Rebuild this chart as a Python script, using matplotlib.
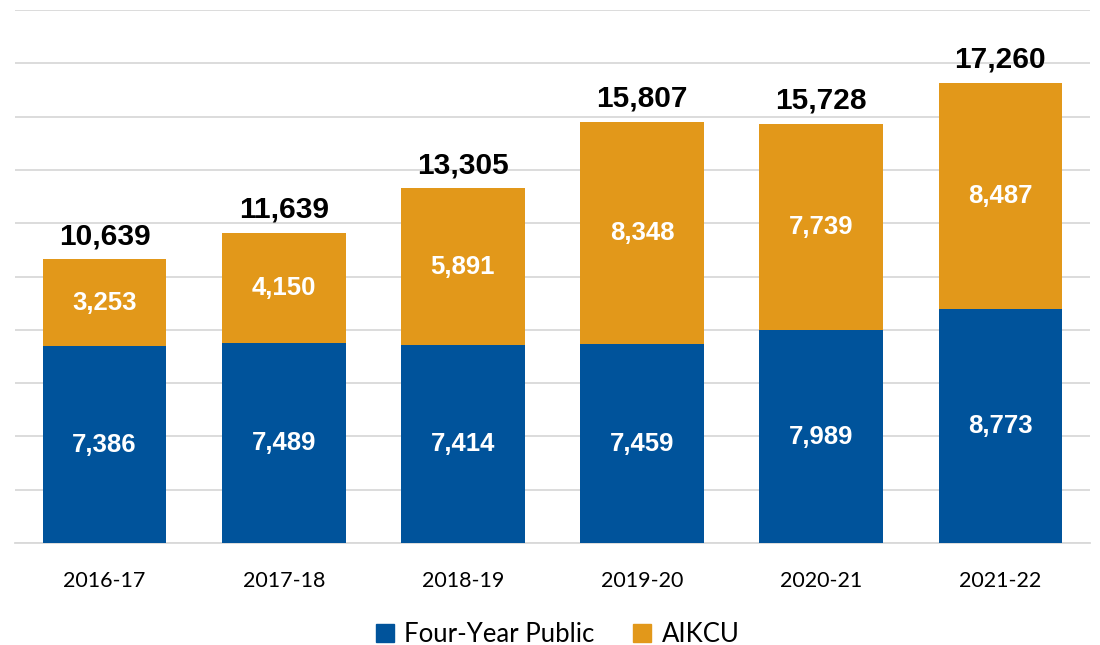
import numpy as np
import matplotlib
matplotlib.use('Agg')
import matplotlib.pyplot as plt
from matplotlib.patches import Patch

years = ['2016-17', '2017-18', '2018-19', '2019-20', '2020-21', '2021-22']
public = [7386, 7489, 7414, 7459, 7989, 8773]
aikcu = [3253, 4150, 5891, 8348, 7739, 8487]
totals = [10639, 11639, 13305, 15807, 15728, 17260]

blue = '#00539B'
orange = '#E2981A'
grid_c = '#D9D9D9'

fig = plt.figure(figsize=(11, 6.45), dpi=100)
ax = fig.add_axes([15 / 1100, 102 / 645, 1075 / 1100, 533 / 645])

x = np.arange(len(years))
w = 0.69
b1 = ax.bar(x, public, w, color=blue, zorder=3)
b2 = ax.bar(x, aikcu, w, bottom=public, color=orange, zorder=3)

for i in range(len(years)):
    ax.text(x[i], public[i] / 2, f'{public[i]:,}', ha='center', va='center',
            color='white', fontsize=18.5, family='Liberation Sans', weight='bold', zorder=4)
    ax.text(x[i], public[i] + aikcu[i] / 2, f'{aikcu[i]:,}', ha='center', va='center',
            color='white', fontsize=18.5, family='Liberation Sans', weight='bold', zorder=4)
    ax.annotate(f'{totals[i]:,}', (x[i], public[i] + aikcu[i]), xytext=(0, 11),
                textcoords='offset points', ha='center', va='baseline',
                color='black', fontsize=21.5, family='Liberation Sans', weight='bold', zorder=4)

ax.set_ylim(0, 20000)
ax.set_xlim(-0.5, len(years) - 0.5)
ax.set_yticks(np.arange(0, 20001, 2000))
ax.yaxis.grid(True, color=grid_c, linewidth=1.3, zorder=0)
ax.tick_params(axis='y', left=False, labelleft=False)
ax.tick_params(axis='x', bottom=False, pad=17)
ax.set_xticks(x, years, fontsize=15.5, family='Lato')
for s in ['top', 'right', 'left']:
    ax.spines[s].set_visible(False)
ax.spines['bottom'].set_color(grid_c)
ax.spines['bottom'].set_linewidth(1.3)

handles = [Patch(color=blue, label='Four-Year Public'), Patch(color=orange, label='AIKCU')]
fig.legend(handles=handles, loc='center', bbox_to_anchor=(0.507, 0.017), ncol=2,
           frameon=False, prop={'family': 'Lato', 'size': 18.5},
           handlelength=0.7, handleheight=0.7, columnspacing=1.5, handletextpad=0.4)

fig.savefig('out.png', dpi=100)
